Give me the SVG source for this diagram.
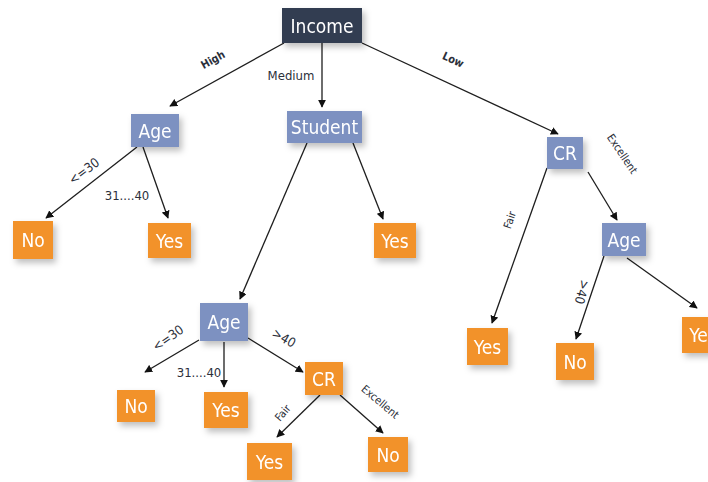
<svg xmlns="http://www.w3.org/2000/svg" width="708" height="482" viewBox="0 0 708 482">
<style>
.dark{fill:#333d51}
.blue{fill:#7d91c1}
.org{fill:#f2922c}
.nt{font-family:"DejaVu Sans Condensed","DejaVu Sans","Liberation Sans",sans-serif;font-stretch:condensed;font-size:19px;fill:#fff;text-anchor:middle;dominant-baseline:central}
.el{font-family:"DejaVu Sans Condensed","DejaVu Sans","Liberation Sans",sans-serif;font-stretch:condensed;font-size:13px;fill:#2b2f3a;text-anchor:middle;dominant-baseline:central}
.sm{font-size:11px}
.b{font-weight:bold}
.ln{stroke:#1e1e1e;stroke-width:1.3;fill:none;marker-end:url(#ah)}
</style>
<defs>
<marker id="ah" viewBox="0 0 10 10" refX="9" refY="5" markerWidth="8" markerHeight="8" markerUnits="userSpaceOnUse" orient="auto">
<path d="M0,0 L10,5 L0,10 z" fill="#111"/>
</marker>
<filter id="sh" x="-30%" y="-30%" width="180%" height="180%">
<feDropShadow dx="3" dy="4" stdDeviation="3" flood-color="#000" flood-opacity="0.25"/>
</filter>
</defs>
<rect width="708" height="482" fill="#fff"/>
<g id="connectors">
<line class="ln" x1="284" y1="43" x2="170" y2="106"/>
<line class="ln" x1="322" y1="43" x2="322" y2="107"/>
<line class="ln" x1="362" y1="43" x2="558" y2="134"/>
<line class="ln" x1="137" y1="147" x2="46" y2="218"/>
<line class="ln" x1="143" y1="147" x2="168" y2="218"/>
<line class="ln" x1="307" y1="143" x2="240" y2="299"/>
<line class="ln" x1="353" y1="143" x2="383" y2="219"/>
<line class="ln" x1="547" y1="168" x2="492" y2="323"/>
<line class="ln" x1="588" y1="172" x2="617" y2="220"/>
<line class="ln" x1="604" y1="256" x2="576" y2="339"/>
<line class="ln" x1="627" y1="258" x2="697" y2="308"/>
<line class="ln" x1="199" y1="340" x2="145" y2="372"/>
<line class="ln" x1="224" y1="342" x2="224" y2="387"/>
<line class="ln" x1="248" y1="338" x2="303" y2="372"/>
<line class="ln" x1="320" y1="395" x2="277" y2="437"/>
<line class="ln" x1="340" y1="395" x2="383" y2="433"/>
</g>
<g id="edge-labels">
<text class="el sm b" transform="translate(213,60) rotate(-29)">High</text>
<text class="el" x="291" y="75">Medium</text>
<text class="el sm b" transform="translate(453,60) rotate(25)">Low</text>
<text class="el" transform="translate(84,171) rotate(-37)">&lt;=30</text>
<text class="el" x="127" y="195">31....40</text>
<text class="el sm" transform="translate(510,220) rotate(-71)">Fair</text>
<text class="el sm" transform="translate(622,154) rotate(56)">Excellent</text>
<text class="el" transform="translate(582,292) rotate(105)">&gt;40</text>
<text class="el" transform="translate(168,338) rotate(-35)">&lt;=30</text>
<text class="el" x="199" y="372">31....40</text>
<text class="el" transform="translate(284,338) rotate(30)">&gt;40</text>
<text class="el sm" transform="translate(283,413) rotate(-50)">Fair</text>
<text class="el sm" transform="translate(380,402) rotate(40)">Excellent</text>
</g>
<g id="income" filter="url(#sh)"><rect class="dark" x="282" y="8" width="80" height="35"/><text class="nt" x="322" y="25.5">Income</text></g>
<g id="age1" filter="url(#sh)"><rect class="blue" x="131" y="114" width="48" height="33"/><text class="nt" x="155" y="130.5">Age</text></g>
<g id="student" filter="url(#sh)"><rect class="blue" x="287" y="111" width="75" height="32"/><text class="nt" x="324.5" y="127">Student</text></g>
<g id="cr1" filter="url(#sh)"><rect class="blue" x="547" y="137" width="36" height="32"/><text class="nt" x="565" y="153">CR</text></g>
<g id="no1" filter="url(#sh)"><rect class="org" x="13" y="221" width="40" height="38"/><text class="nt" x="33" y="240">No</text></g>
<g id="yes1" filter="url(#sh)"><rect class="org" x="148" y="223" width="43" height="35"/><text class="nt" x="169.5" y="240.5">Yes</text></g>
<g id="yes2" filter="url(#sh)"><rect class="org" x="374" y="223" width="42" height="35"/><text class="nt" x="395" y="240.5">Yes</text></g>
<g id="age3" filter="url(#sh)"><rect class="blue" x="602" y="223" width="44" height="33"/><text class="nt" x="624" y="239.5">Age</text></g>
<g id="yes3" filter="url(#sh)"><rect class="org" x="467" y="328" width="41" height="37"/><text class="nt" x="487.5" y="346.5">Yes</text></g>
<g id="no3" filter="url(#sh)"><rect class="org" x="556" y="343" width="38" height="37"/><text class="nt" x="575" y="361.5">No</text></g>
<g id="yes4" filter="url(#sh)"><rect class="org" x="682" y="317" width="42" height="36"/><text class="nt" x="703" y="335">Yes</text></g>
<g id="age2" filter="url(#sh)"><rect class="blue" x="200" y="303" width="48" height="38"/><text class="nt" x="224" y="322">Age</text></g>
<g id="no2" filter="url(#sh)"><rect class="org" x="117" y="390" width="38" height="32"/><text class="nt" x="136" y="406">No</text></g>
<g id="yes5" filter="url(#sh)"><rect class="org" x="204" y="392" width="44" height="36"/><text class="nt" x="226" y="410">Yes</text></g>
<g id="cr2" filter="url(#sh)"><rect class="org" x="305" y="362" width="38" height="33"/><text class="nt" x="324" y="378.5">CR</text></g>
<g id="yes6" filter="url(#sh)"><rect class="org" x="247" y="443" width="45" height="37"/><text class="nt" x="269.5" y="461.5">Yes</text></g>
<g id="no4" filter="url(#sh)"><rect class="org" x="368" y="437" width="40" height="35"/><text class="nt" x="388" y="454.5">No</text></g>
</svg>
